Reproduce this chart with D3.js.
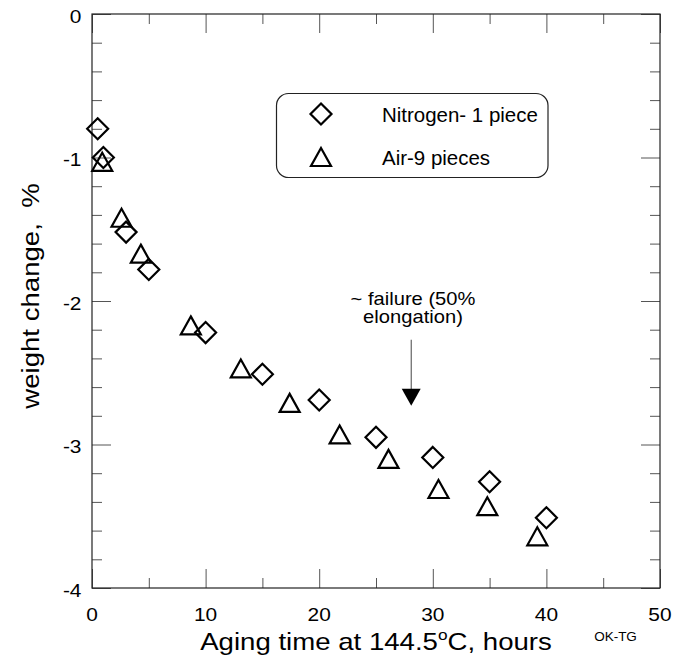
<!DOCTYPE html>
<html>
<head>
<meta charset="utf-8">
<script src="https://cdn.jsdelivr.net/npm/d3@7"></script>
<style>
  html, body { margin: 0; padding: 0; background: #fff; }
  svg { display: block; }
  text { font-family: "Liberation Sans", Arial, Helvetica, sans-serif; fill: #000; }
</style>
</head>
<body>
<script>
// ---- data ----
const nitrogenTime   = [0.5, 1.0, 3.0, 5.0, 10.0, 15.0, 20.0, 25.0, 30.0, 35.0, 40.0];
const nitrogenChange = [-0.80, -1.00, -1.52, -1.78, -2.22, -2.51, -2.69, -2.95, -3.09, -3.26, -3.51];
const airTime   = [0.9, 2.6, 4.3, 8.7, 13.1, 17.4, 21.8, 26.1, 30.5, 34.8, 39.2];
const airChange = [-1.03, -1.42, -1.67, -2.17, -2.47, -2.71, -2.93, -3.10, -3.31, -3.43, -3.64];
const xTickLabels = [0, 10, 20, 30, 40, 50];
const yTickLabels = [0, -1, -2, -3, -4];
const seriesNames = ["Nitrogen- 1 piece", "Air-9 pieces"];
const failureTime = 28.1;
const failureArrow = [-2.27, -2.73];
const failureText = ["~ failure (50%", "elongation)"];

// ---- layout ----
const W = 676, H = 669;
const L = 92, R = 660, T = 14, B = 588;

const svg = d3.select("body").append("svg").attr("width", W).attr("height", H);

const x = d3.scaleLinear().domain([0, 50]).range([L, R]);
const y = d3.scaleLinear().domain([-4, 0]).range([B, T]);

const tickColor = "#555";

// ticks via d3 axes (inner ticks)
const xMinor = d3.range(0, 50.001, 5);
const yMinor = d3.range(-4, 0.001, 0.2).map(v => +v.toFixed(1));
function isMajorX(v) { return Math.abs(v % 10) < 1e-6; }
function isMajorY(v) { return Math.abs(v - Math.round(v)) < 1e-6; }

function addAxis(axisGen, tx, ty, vals, isMajor, dir) {
  const g = svg.append("g").attr("transform", `translate(${tx},${ty})`);
  g.call(axisGen.tickValues(vals).tickFormat("").tickSizeOuter(0));
  g.select(".domain").remove();
  g.selectAll(".tick line")
    .attr("stroke", tickColor)
    .attr("stroke-width", 1)
    .each(function(d) {
      const len = isMajor(d) ? 19 : 10;
      const line = d3.select(this);
      if (dir === "x") line.attr("y2", len * line.attr("data-s"));
    });
  return g;
}

// bottom ticks (pointing up)
const gb = svg.append("g").attr("transform", `translate(0,${B})`)
  .call(d3.axisBottom(x).tickValues(xMinor).tickFormat("").tickSizeOuter(0));
gb.select(".domain").remove();
gb.selectAll(".tick line").attr("stroke", tickColor).attr("y2", d => -(isMajorX(d) ? 19 : 10));
// top ticks (pointing down)
const gt = svg.append("g").attr("transform", `translate(0,${T})`)
  .call(d3.axisTop(x).tickValues(xMinor).tickFormat("").tickSizeOuter(0));
gt.select(".domain").remove();
gt.selectAll(".tick line").attr("stroke", tickColor).attr("y2", d => (isMajorX(d) ? 19 : 10));
// left ticks (pointing right)
const gl = svg.append("g").attr("transform", `translate(${L},0)`)
  .call(d3.axisLeft(y).tickValues(yMinor).tickFormat("").tickSizeOuter(0));
gl.select(".domain").remove();
gl.selectAll(".tick line").attr("stroke", tickColor).attr("x2", d => (isMajorY(d) ? 19 : 10));
// right ticks (pointing left)
const gr = svg.append("g").attr("transform", `translate(${R},0)`)
  .call(d3.axisRight(y).tickValues(yMinor).tickFormat("").tickSizeOuter(0));
gr.select(".domain").remove();
gr.selectAll(".tick line").attr("stroke", tickColor).attr("x2", d => -(isMajorY(d) ? 19 : 10));

// frame
svg.append("rect").attr("x", L).attr("y", T).attr("width", R - L).attr("height", B - T)
  .attr("fill", "none").attr("stroke", "#222").attr("stroke-width", 1.2);

// tick labels
const sx = 1.1;
svg.append("g").selectAll("text").data(xTickLabels).join("text")
  .attr("transform", d => `translate(${x(d)},${621}) scale(${sx},1)`)
  .attr("text-anchor", "middle").attr("font-size", 19).text(d => d);
svg.append("g").selectAll("text").data(yTickLabels).join("text")
  .attr("transform", d => `translate(${81.5},${y(d) + 8.5}) scale(${sx},1)`)
  .attr("text-anchor", "end").attr("font-size", 19).text(d => d);

// axis titles
const xt = svg.append("text")
  .attr("transform", `translate(${(L + R) / 2},650) scale(1.15,1)`)
  .attr("text-anchor", "middle").attr("font-size", 24);
xt.append("tspan").text("Aging time at 144.5");
xt.append("tspan").attr("font-size", 15).attr("dy", -10).text("o");
xt.append("tspan").attr("dy", 10).text("C, hours");

svg.append("text")
  .attr("transform", `translate(39,296) rotate(-90) scale(1.15,1)`)
  .attr("text-anchor", "middle").attr("font-size", 24)
  .attr("xml:space", "preserve")
  .text("weight change,  %");

svg.append("text")
  .attr("transform", `translate(615.5,641)`)
  .attr("text-anchor", "middle").attr("font-size", 13.5)
  .text("OK-TG");

// markers
const diamond = s => `M0,${-s}L${s},0L0,${s}L${-s},0Z`;
const triangle = (w, h) => `M0,${-h / 2}L${w / 2},${h / 2}L${-w / 2},${h / 2}Z`;

const nitro = nitrogenTime.map((t, i) => ({ t, v: nitrogenChange[i] }));
const air = airTime.map((t, i) => ({ t, v: airChange[i] }));

svg.append("g").selectAll("path").data(air).join("path")
  .attr("d", triangle(20, 18))
  .attr("transform", d => `translate(${x(d.t)},${y(d.v)})`)
  .attr("fill", "none").attr("stroke", "#000").attr("stroke-width", 2.2).attr("stroke-linejoin", "miter");

svg.append("g").selectAll("path").data(nitro).join("path")
  .attr("d", diamond(10.5))
  .attr("transform", d => `translate(${x(d.t)},${y(d.v)})`)
  .attr("fill", "none").attr("stroke", "#000").attr("stroke-width", 2.2);

// legend
svg.append("rect").attr("x", 276.5).attr("y", 93.5).attr("width", 271.5).attr("height", 84)
  .attr("rx", 12).attr("ry", 12)
  .attr("fill", "#fff").attr("stroke", "#222").attr("stroke-width", 1.2);
const legY = [114, 157];
svg.append("path").attr("d", diamond(10.5)).attr("transform", `translate(321,${legY[0]})`)
  .attr("fill", "none").attr("stroke", "#000").attr("stroke-width", 2.2);
svg.append("path").attr("d", triangle(20, 18)).attr("transform", `translate(321,${legY[1]})`)
  .attr("fill", "none").attr("stroke", "#000").attr("stroke-width", 2.2);
svg.append("g").selectAll("text").data(seriesNames).join("text")
  .attr("transform", (d, i) => `translate(382,${legY[i] + 7.5}) scale(1.05,1)`)
  .attr("font-size", 19.5).text(d => d);

// failure annotation
svg.append("line")
  .attr("x1", x(failureTime)).attr("x2", x(failureTime))
  .attr("y1", y(failureArrow[0])).attr("y2", y(failureArrow[1]) - 16)
  .attr("stroke", "#444").attr("stroke-width", 1);
svg.append("path")
  .attr("d", `M${x(failureTime) - 9.5},${y(failureArrow[1]) - 17}L${x(failureTime) + 9.5},${y(failureArrow[1]) - 17}L${x(failureTime)},${y(failureArrow[1])}Z`)
  .attr("fill", "#000");
svg.append("g").selectAll("text").data(failureText).join("text")
  .attr("transform", (d, i) => `translate(413,${305 + i * 18}) scale(1.12,1)`)
  .attr("text-anchor", "middle").attr("font-size", 18).text(d => d);
</script>
</body>
</html>
